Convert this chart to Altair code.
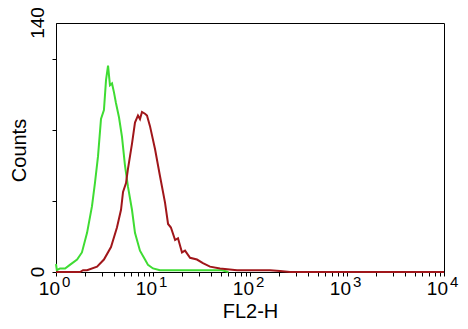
import altair as alt
import pandas as pd

# FL2-H intensity (log axis) and counts
green_x = [1.0, 1.02, 1.10, 1.24, 1.39, 1.65, 1.85, 2.09, 2.35, 2.52, 2.71, 2.91, 3.12,
           3.28, 3.44, 3.60, 3.78, 3.96, 4.15, 4.46, 4.79, 5.14, 5.52, 6.07, 6.52, 7.34,
           8.27, 8.88, 10.0, 11.8, 30.5, 51.4, 60.0]
green_y = [4.5, 1, 2, 2, 4, 7, 11, 22, 37, 50, 65, 86, 91,
           108, 116, 105, 106, 101, 95, 87, 76, 60, 48, 35, 22, 12,
           7, 4, 2, 1, 1, 1, 0]

red_x = [1.0, 1.77, 1.90, 2.09, 2.65, 3.12, 3.69, 4.25, 4.68, 4.91, 5.27, 5.52, 6.07,
         6.52, 7.00, 7.34, 7.70, 8.27, 8.67, 9.31, 10.5, 11.8, 13.3, 14.3, 15.3, 16.9,
         18.1, 19.9, 21.4, 24.1, 28.4, 32.7, 38.7, 49.1, 73.5, 161, 204, 258, 10000]
red_y = [0, 0, 1, 1, 3, 7, 14, 25, 35, 45, 50, 58, 72,
         84, 88, 86, 90, 89, 88, 82, 69, 54, 39, 27, 25, 18,
         19, 11, 12, 8, 7, 5, 3, 2, 1, 1, 0.5, 0, 0]

decades = [1, 10, 100, 1000, 10000]
exponents = ["0", "1", "2", "3", "4"]
y_label_values = [0, 140]
y_ticks = [0, 20, 40, 60, 80, 100, 120, 140]
x_ticks = [m * d for d in [1, 10, 100, 1000] for m in range(1, 10)] + [10000]

W, H = 388, 249
FONT = "Liberation Sans"

green = pd.DataFrame({"x": green_x, "y": green_y})
red = pd.DataFrame({"x": red_x, "y": red_y})
xlabels = pd.DataFrame({"x": decades, "base": ["10"] * 5, "exp": exponents})
ylabels = pd.DataFrame({"y": y_label_values, "t": [str(v) for v in y_label_values]})

xscale = alt.Scale(type="log", domain=[1, 10000])
yscale = alt.Scale(domain=[0, 140])

xaxis = alt.Axis(values=x_ticks, labels=False, grid=False, tickSize=4,
                 title="FL2-H", titleFontSize=20, titleFontWeight="normal",
                 titleBaseline="alphabetic", titleY=45, titleX=W / 2, titleAlign="center",
                 titleFont=FONT, titleColor="black")
yaxis = alt.Axis(values=y_ticks, labels=False, grid=False, tickSize=4,
                 title="Counts", titleFontSize=20, titleFontWeight="normal",
                 titleAngle=270, titleAlign="center", titleBaseline="alphabetic",
                 titleX=-31, titleY=127, titleFont=FONT, titleColor="black")

g_line = alt.Chart(green).mark_line(color="#3fdc33", strokeWidth=2).encode(
    x=alt.X("x:Q", scale=xscale, axis=xaxis),
    y=alt.Y("y:Q", scale=yscale, axis=yaxis),
)
r_line = alt.Chart(red).mark_line(color="#a0161a", strokeWidth=2).encode(
    x=alt.X("x:Q", scale=xscale),
    y=alt.Y("y:Q", scale=yscale),
)
base_txt = alt.Chart(xlabels).mark_text(align="right", baseline="alphabetic", dx=4,
                                        fontSize=19, font=FONT, color="black").encode(
    x=alt.X("x:Q", scale=xscale), y=alt.value(H + 23), text="base:N")
exp_txt = alt.Chart(xlabels).mark_text(align="left", baseline="alphabetic", dx=6,
                                       fontSize=15, font=FONT, color="black").encode(
    x=alt.X("x:Q", scale=xscale), y=alt.value(H + 15), text="exp:N")
y_txt = alt.Chart(ylabels).mark_text(align="center", baseline="alphabetic", angle=270,
                                     fontSize=19, font=FONT, color="black").encode(
    y=alt.Y("y:Q", scale=yscale), x=alt.value(-12), text="t:N")

chart = alt.layer(g_line, r_line, base_txt, exp_txt, y_txt).properties(
    width=W, height=H,
    autosize=alt.AutoSizeParams(type="none"),
    padding={"left": 48, "top": 15, "right": 16, "bottom": 49},
    background="white",
).configure_view(stroke="black", strokeWidth=1).configure_axis(
    domainColor="black", tickColor="black", domainWidth=1, tickWidth=1
)

chart.save("out.html", embed_options={"renderer": "svg", "actions": False})
